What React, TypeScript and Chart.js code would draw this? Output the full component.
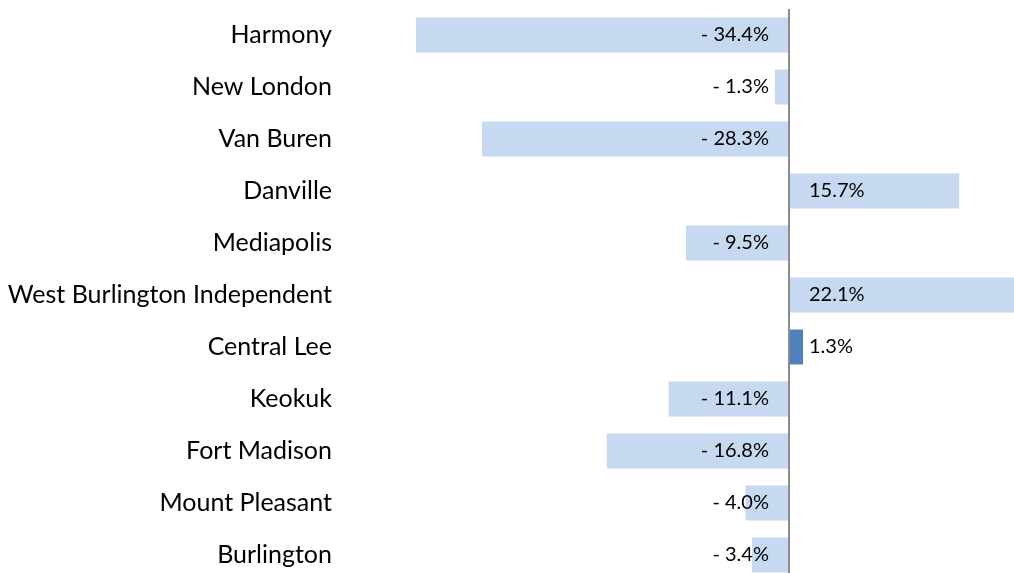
import React, { useEffect, useRef } from "react";
import { Chart, registerables } from "chart.js";

Chart.register(...registerables);

const categories = [
  "Harmony",
  "New London",
  "Van Buren",
  "Danville",
  "Mediapolis",
  "West Burlington Independent",
  "Central Lee",
  "Keokuk",
  "Fort Madison",
  "Mount Pleasant",
  "Burlington",
];
const values = [-34.4, -1.3, -28.3, 15.7, -9.5, 22.1, 1.3, -11.1, -16.8, -4.0, -3.4];
const highlighted = "Central Lee";
const axisMin = -41.4;
const axisMax = 20.75;

const LIGHT = "#C6D9F1";
const DARK = "#4F81BD";
const FONT = "Lato, 'Open Sans', sans-serif";

function fmt(v: number): string {
  return v < 0 ? "- " + Math.abs(v).toFixed(1) + "%" : v.toFixed(1) + "%";
}

const labelPlugin = {
  id: "barLabels",
  afterDatasetsDraw(chart: any) {
    const ctx = chart.ctx;
    const meta = chart.getDatasetMeta(0);
    const zero = chart.scales.x.getPixelForValue(0);
    ctx.save();
    ctx.font = "20px " + FONT;
    ctx.fillStyle = "#000";
    ctx.textBaseline = "middle";
    meta.data.forEach((bar: any, i: number) => {
      const v = values[i];
      if (v < 0) {
        ctx.textAlign = "right";
        ctx.fillText(fmt(v), zero - 20, bar.y);
      } else {
        ctx.textAlign = "left";
        ctx.fillText(fmt(v), zero + 20, bar.y);
      }
    });
    ctx.restore();
  },
};

export default function App() {
  const ref = useRef<HTMLCanvasElement | null>(null);
  useEffect(() => {
    if (!ref.current) return;
    const chart = new Chart(ref.current, {
      type: "bar",
      data: {
        labels: categories,
        datasets: [
          {
            data: values,
            backgroundColor: categories.map((c) => (c === highlighted ? DARK : LIGHT)),
            borderWidth: 0,
            barPercentage: 1,
            categoryPercentage: 0.673,
          },
        ],
      },
      options: {
        indexAxis: "y",
        animation: false,
        responsive: true,
        maintainAspectRatio: false,
        layout: { padding: { top: 9, bottom: 1, left: 0, right: 0 } },
        plugins: { legend: { display: false }, tooltip: { enabled: false } },
        scales: {
          x: {
            min: axisMin,
            max: axisMax,
            ticks: { display: false },
            border: { display: false },
            grid: {
              drawTicks: false,
              lineWidth: 2,
              color: (c: any) => (c.tick && c.tick.value === 0 ? "#8C8C8C" : "rgba(0,0,0,0)"),
            },
            afterBuildTicks: (axis: any) => {
              axis.ticks = [{ value: 0 }];
            },
            afterFit: (axis: any) => {
              axis.height = 0;
              axis.paddingLeft = 0;
              axis.paddingRight = 0;
            },
          },
          y: {
            border: { display: false },
            grid: { display: false, drawTicks: false },
            ticks: {
              padding: 8,
              color: "#000",
              font: { family: FONT, size: 25 },
            },
            afterFit: (axis: any) => {
              axis.width = 340;
              axis.paddingTop = 0;
              axis.paddingBottom = 0;
            },
          },
        },
      },
      plugins: [labelPlugin],
    });
    return () => chart.destroy();
  }, []);
  return (
    <div
      style={{
        position: "absolute",
        left: 0,
        top: 0,
        width: 1014,
        height: 573,
        overflow: "hidden",
        background: "#fff",
      }}
    >
      <div style={{ position: "relative", width: 1014, height: 582 }}>
        <canvas ref={ref} />
      </div>
    </div>
  );
}
